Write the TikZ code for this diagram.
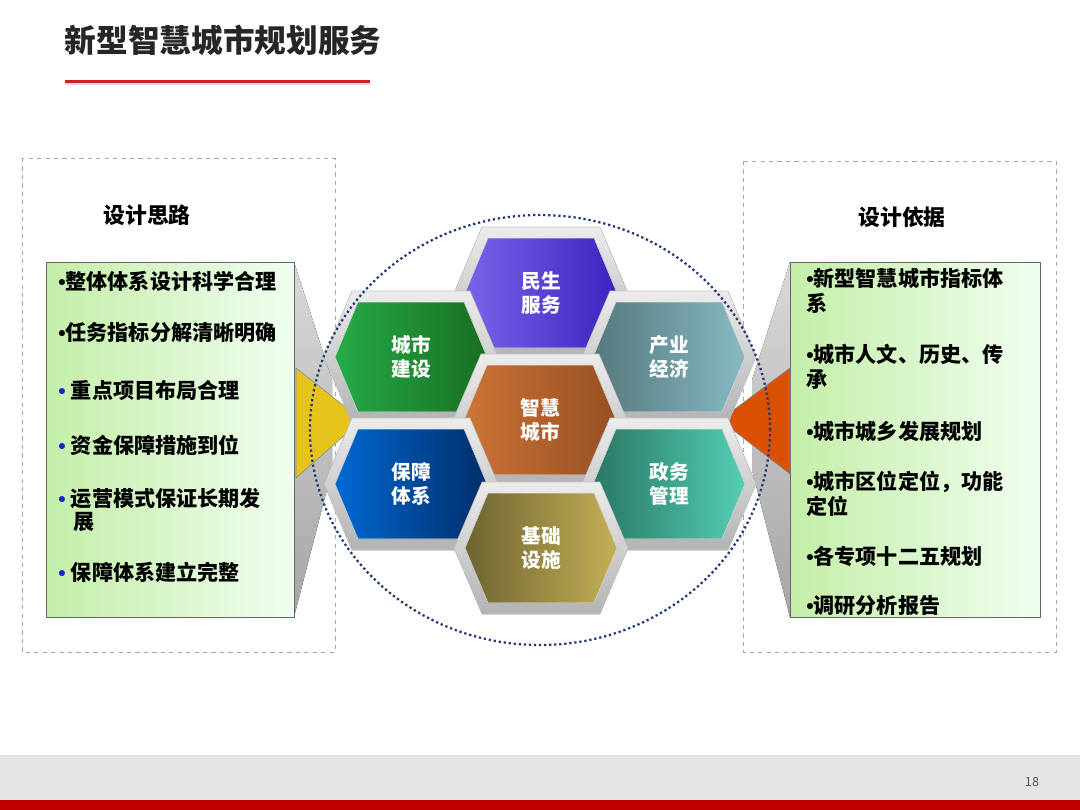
\documentclass[tikz,border=0pt]{standalone}
\usepackage{fontspec}
\setmainfont{Noto Sans CJK SC}
\newfontfamily\bulletfont{Liberation Sans}
\usetikzlibrary{positioning}
\definecolor{darkred}{RGB}{192,0,0}
\definecolor{dotblue}{RGB}{31,56,120}
\definecolor{boxgreen}{RGB}{196,238,168}
\definecolor{bulletblue}{RGB}{20,40,200}
\definecolor{msA}{RGB}{122,100,235}\definecolor{msB}{RGB}{60,35,190}
\definecolor{csA}{RGB}{36,172,70}\definecolor{csB}{RGB}{25,110,35}
\definecolor{cyA}{RGB}{85,120,125}\definecolor{cyB}{RGB}{135,185,195}
\definecolor{zhA}{RGB}{205,115,55}\definecolor{zhB}{RGB}{150,80,35}
\definecolor{bzA}{RGB}{0,105,210}\definecolor{bzB}{RGB}{0,45,105}
\definecolor{zwA}{RGB}{40,120,100}\definecolor{zwB}{RGB}{85,205,180}
\definecolor{jcA}{RGB}{110,100,50}\definecolor{jcB}{RGB}{195,175,85}
\newcommand{\dotb}{{\bulletfont\textbullet}}
\newcommand{\dotblue}{\textcolor{bulletblue}{\bulletfont\textbullet}\hspace{0.25em}}
\tikzset{
  hextext/.style={text=white, font=\bfseries\fontsize{14}{17}\selectfont, align=center},
  itemtext/.style={anchor=west, font=\bfseries\fontsize{15}{18}\selectfont, align=left, text width=5.9cm, inner sep=0pt},
  dashbox/.style={draw=gray!70, dashed},
  listbox/.style={draw=gray!80!black, left color=boxgreen, right color=green!6},
}
% hex cell: name, x, y, colour a, colour b, text
\newcommand{\hexcell}[6]{%
  \begin{scope}[shift={(#2,#3)}]
    \fill[top color=gray!15, bottom color=gray!60, draw=gray!45]
      (-87,0) -- (-59,-66) -- (59,-66) -- (87,0) -- (59,66) -- (-59,66) -- cycle;
    \fill[shading=axis, shading angle=135, left color=#4, right color=#5, draw=white!80!gray]
      (-76,0) -- (-53,-55) -- (53,-55) -- (76,0) -- (53,55) -- (-53,55) -- cycle;
    \node[hextext] (#1) at (0,0) {#6};
  \end{scope}}
\begin{document}
\begin{tikzpicture}[x=0.025cm, y=-0.025cm]
\useasboundingbox (0,0) rectangle (1080,810);
\fill[white] (0,0) rectangle (1080,810);
% title
\node[anchor=west, font=\bfseries\fontsize{22.5}{26}\selectfont, text=black!85] (title) at (60,40) {新型智慧城市规划服务};
\fill[darkred!85] (65,80) rectangle (370,83);
\fill[gray!30] (65,83) rectangle (370,85);
% footer
\fill[gray!20] (0,755) rectangle (1080,800);
\fill[darkred] (0,800) rectangle (1080,810);
\node[font=\fontsize{9}{10}\selectfont, text=gray!70!black] (pagenum) at (1032,782) {18};

% left panel
\draw[dashbox] (22,158) rectangle (335,652);
\node[font=\bfseries\fontsize{15.5}{18}\selectfont] (lefttitle) at (147,215) {设计思路};
\fill[top color=gray!30, bottom color=gray!70] (294,262) -- (332,380) -- (332,470) -- (294,617) -- cycle;
\draw[listbox] (46,262) rectangle (294,617);
\fill[yellow!70!orange!90!black, draw=dotblue!60] (296,368) -- (362,420) -- (296,478) -- cycle;
\node[itemtext] (l1) at (58,281) {\dotb 整体体系设计科学合理};
\node[itemtext] (l2) at (58,333) {\dotb 任务指标分解清晰明确};
\node[itemtext] (l3) at (58,390) {\dotblue 重点项目布局合理};
\node[itemtext] (l4) at (58,445) {\dotblue 资金保障措施到位};
\node[itemtext] (l5) at (58,510) {\dotblue 运营模式保证长期发\\[-1pt]\hspace*{0.7em}展};
\node[itemtext] (l6) at (58,572) {\dotblue 保障体系建立完整};

% right panel
\draw[dashbox] (743,161) rectangle (1056,652);
\node[font=\bfseries\fontsize{15.5}{18}\selectfont] (righttitle) at (902,217) {设计依据};
\fill[top color=gray!30, bottom color=gray!70] (790,262) -- (752,380) -- (752,470) -- (790,617) -- cycle;
\draw[listbox] (790,262) rectangle (1040,617);
\fill[orange!75!red!85!black, draw=dotblue!60] (790,368) -- (720,420) -- (790,474) -- cycle;
\node[itemtext] (r1) at (806,291) {\dotb 新型智慧城市指标体\\系};
\node[itemtext] (r2) at (806,367) {\dotb 城市人文、历史、传\\承};
\node[itemtext] (r3) at (806,431) {\dotb 城市城乡发展规划};
\node[itemtext] (r4) at (806,494) {\dotb 城市区位定位，功能\\定位};
\node[itemtext] (r5) at (806,556) {\dotb 各专项十二五规划};
\node[itemtext] (r6) at (806,606) {\dotb 调研分析报告};

% hexagons
\hexcell{minsheng}{541}{293}{msA}{msB}{民生\\服务}
\hexcell{chengshi}{411}{357}{csA}{csB}{城市\\建设}
\hexcell{chanye}{669}{357}{cyA}{cyB}{产业\\经济}
\hexcell{zhihui}{540}{420}{zhA}{zhB}{智慧\\城市}
\hexcell{baozhang}{411}{484}{bzA}{bzB}{保障\\体系}
\hexcell{zhengwu}{669}{484}{zwA}{zwB}{政务\\管理}
\hexcell{jichu}{541}{548}{jcA}{jcB}{基础\\设施}

% dotted ring
\draw[dotblue, line width=1.6pt, dotted] (540,430) ellipse [x radius=230, y radius=-215];
\end{tikzpicture}
\end{document}
